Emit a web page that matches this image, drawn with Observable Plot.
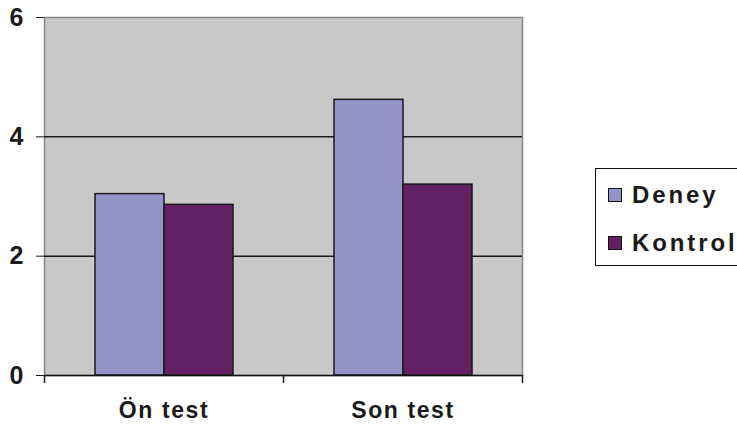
<!DOCTYPE html>
<html>
<head>
<meta charset="utf-8">
<script src="https://cdn.jsdelivr.net/npm/d3@7"></script>
<script src="https://cdn.jsdelivr.net/npm/@observablehq/plot@0.6"></script>
<style>
  html, body { margin: 0; padding: 0; background: #fff; }
  #wrap { position: relative; width: 737px; height: 426px; overflow: hidden; background: #fff; }
  #chart g[aria-label="fx-axis tick label"] text { letter-spacing: 1.6px; font-size: 23px; }
  #chart g[aria-label="y-axis tick label"] text { font-size: 25px; }
  #legend {
    position: absolute; left: 595px; top: 168px; width: 190px; height: 98px;
    border: 1.5px solid #111; box-sizing: border-box; background: #fff;
    font-family: "Liberation Sans", Arial, sans-serif; font-weight: bold; font-size: 24px;
    letter-spacing: 2.9px; color: #1a1a1a;
  }
  .item { position: absolute; left: 12px; display: flex; align-items: center; height: 28px; }
  .sw { width: 12px; height: 12px; border: 1px solid #111; margin-right: 10px; }
</style>
</head>
<body>
<div id="wrap">
  <div id="chart"></div>
  <div id="legend"></div>
</div>
<script>
const categories = ["Ön test", "Son test"];
const series = ["Deney", "Kontrol"];
const deney = [3.04, 4.62];
const kontrol = [2.86, 3.20];
const yTicks = [0, 2, 4, 6];
const gridTicks = [2, 4];
const colors = ["#9494c8", "#632063"];

const data = [];
categories.forEach((c, i) => {
  data.push({test: c, group: series[0], value: deney[i]});
  data.push({test: c, group: series[1], value: kontrol[i]});
});

const W = 737, H = 426, mL = 44, mR = 215, mT = 17, mB = 51;
const halfBand = (W - mL - mR) / categories.length / 2;

const chart = Plot.plot({
  width: W, height: H,
  marginLeft: mL, marginRight: mR, marginTop: mT, marginBottom: mB,
  style: {fontFamily: "'Liberation Sans', Arial, sans-serif", fontSize: "22px", fontWeight: "bold", color: "#1a1a1a", background: "transparent", overflow: "visible"},
  fx: {domain: categories, padding: 0, label: null},
  x: {domain: series, paddingInner: 0, paddingOuter: 0.71, axis: null},
  y: {domain: [0, 6], ticks: yTicks, tickFormat: d3.format("d"), tickSize: 8, tickPadding: 13, line: true, label: null, grid: false},
  color: {domain: series, range: colors},
  marks: [
    Plot.frame({fill: "#c8c8c8", stroke: "#858585", strokeWidth: 1.5, facet: "super"}),
    Plot.ruleY(gridTicks, {stroke: "#1a1a1a", strokeWidth: 1.5}),
    Plot.barY(data, {fx: "test", x: "group", y: "value", fill: "group", stroke: "#1a1a1a", strokeWidth: 1.5}),
    Plot.ruleY([0], {stroke: "#111", strokeWidth: 1.5}),
    Plot.axisFx({anchor: "bottom", ticks: categories, tickSize: 0, tickPadding: 26, label: null, fontSize: 23}),
    Plot.axisFx({anchor: "bottom", ticks: categories, tickSize: 8, tickFormat: () => "", label: null, dx: -halfBand, strokeWidth: 1.5}),
    Plot.axisFx({anchor: "bottom", ticks: [categories[categories.length - 1]], tickSize: 8, tickFormat: () => "", label: null, dx: halfBand, strokeWidth: 1.5})
  ]
});
document.getElementById("chart").appendChild(chart);

const legend = document.getElementById("legend");
series.forEach((s, i) => {
  const it = document.createElement("div");
  it.className = "item";
  it.style.top = (12 + i * 48) + "px";
  const sw = document.createElement("div");
  sw.className = "sw";
  sw.style.background = colors[i];
  const t = document.createElement("span");
  t.textContent = s;
  it.appendChild(sw); it.appendChild(t);
  legend.appendChild(it);
});
</script>
</body>
</html>
